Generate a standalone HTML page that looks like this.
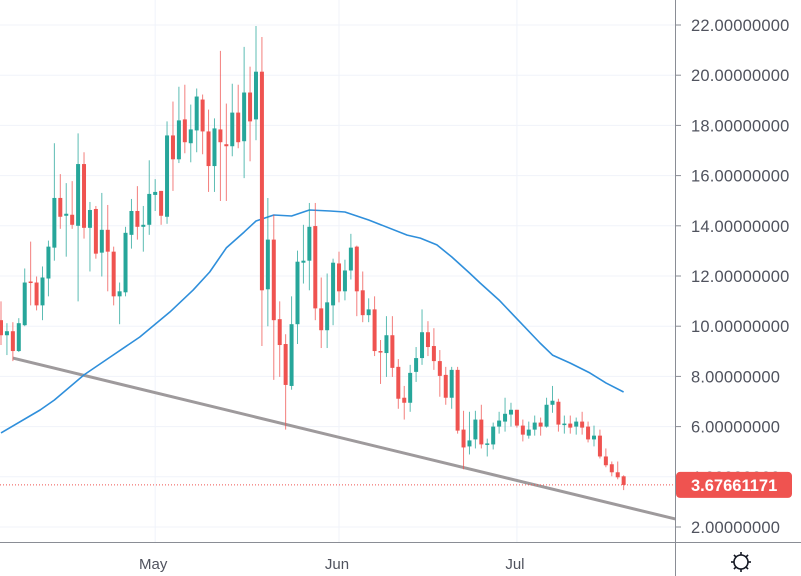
<!DOCTYPE html>
<html><head><meta charset="utf-8"><style>
html,body{margin:0;padding:0;background:#fff;}
svg{display:block;font-family:"Liberation Sans",sans-serif;}
</style></head><body>
<svg id="chart" width="801" height="576" viewBox="0 0 801 576" xmlns="http://www.w3.org/2000/svg">
<rect x="0" y="0" width="801" height="576" fill="#fff"/>
<g id="grid"></g>
<g id="plot"></g>
<g id="axes"></g>
</svg>
<script>
const opens=[10.24,9.64,9.80,9.01,10.04,11.78,11.74,10.83,11.90,13.13,15.11,14.40,14.44,14.00,16.46,13.92,14.67,12.93,13.84,12.97,11.19,11.35,13.64,14.59,13.96,14.04,15.23,15.39,14.36,17.60,16.65,18.24,17.29,17.80,19.03,17.76,16.38,17.84,17.25,17.17,18.51,17.37,19.31,18.24,20.14,11.47,13.45,10.28,9.29,7.62,10.08,12.53,12.61,13.99,10.71,9.84,10.83,12.50,11.39,12.22,13.17,11.43,10.44,10.67,9.01,8.93,9.64,8.38,7.15,6.95,8.18,8.73,9.76,9.21,8.61,8.06,7.15,8.26,5.88,5.21,5.49,6.28,5.29,5.29,6.00,6.20,6.48,6.67,6.04,5.64,5.88,6.16,6.00,6.87,6.99,6.08,6.12,6.00,6.20,6.00,5.49,5.64,4.81,4.50,4.18,4.02];
const highs=[10.99,10.12,10.16,10.32,12.30,13.37,11.98,12.38,13.41,17.29,16.06,15.70,15.78,17.68,16.93,14.95,14.79,15.31,14.83,13.17,11.74,13.96,15.07,15.58,14.79,16.61,15.86,15.39,18.16,18.95,19.54,19.62,18.83,19.47,19.23,18.63,18.28,20.97,18.87,19.66,19.62,21.13,20.34,21.96,21.52,15.11,14.44,10.99,9.68,11.19,13.01,14.04,14.91,14.91,11.94,12.10,12.69,12.97,12.65,13.68,13.21,12.18,11.11,11.19,9.45,10.40,10.40,8.69,7.62,8.46,9.17,10.67,10.20,9.92,9.05,8.38,8.38,8.38,6.63,6.59,6.63,6.87,5.52,6.16,6.59,7.15,6.95,6.67,6.28,6.20,6.44,6.36,7.15,7.62,7.11,6.44,6.44,6.36,6.59,6.20,6.04,5.88,5.13,4.61,4.61,4.06];
const lows=[9.25,8.85,8.61,8.97,10.00,10.83,10.63,10.24,11.19,12.61,13.88,12.77,13.88,10.99,13.49,12.18,12.69,11.98,11.39,10.83,10.08,11.19,13.09,13.45,12.97,13.64,14.59,14.04,14.08,15.39,16.50,16.89,16.53,16.93,16.85,15.35,15.35,14.99,14.99,16.77,17.09,15.90,16.57,17.41,9.21,10.00,7.86,7.98,5.88,7.47,9.29,11.70,11.43,10.24,9.13,9.13,10.04,10.95,11.03,11.86,10.40,10.16,10.16,8.81,7.70,7.98,7.98,6.71,6.28,6.59,7.78,8.46,8.81,8.26,7.19,6.87,6.71,5.72,4.30,4.89,5.13,5.13,4.81,5.09,5.72,5.80,6.00,5.96,5.41,5.52,5.64,5.64,5.96,6.55,5.80,5.72,5.72,5.68,5.68,5.37,5.21,4.73,4.38,4.02,3.90,3.47];
const closes=[9.64,9.80,9.01,10.12,11.74,11.74,10.83,11.94,13.17,15.11,14.36,14.48,14.04,16.46,13.92,14.63,12.89,13.84,12.97,11.19,11.39,13.72,14.59,13.96,14.04,15.27,15.35,14.40,17.60,16.65,18.20,17.33,17.84,19.15,17.76,16.38,17.88,17.33,17.17,18.51,17.33,19.31,18.16,20.14,11.43,13.45,10.24,9.25,7.66,10.08,12.57,12.61,13.96,10.71,9.84,10.95,12.53,11.39,12.22,13.13,11.39,10.44,10.67,9.01,8.97,9.64,8.34,7.11,6.95,8.14,8.73,9.76,9.17,8.61,8.02,7.15,8.26,5.84,5.17,5.45,6.28,5.29,5.33,6.00,6.24,6.51,6.67,6.04,5.68,5.88,6.16,6.00,6.87,7.03,6.08,6.12,5.96,6.20,5.96,5.49,5.64,4.81,4.46,4.18,3.98,3.67661171];
const maIdx=[0,6.6,9,14,18.4,23.4,28.5,32.4,35.2,38,41,43,46,49,52,55.5,58,62,68.5,70.7,73.5,76,79,80.8,84,87.5,90.9,93,96,99.3,102,105];
const maVal=[5.75,6.66,7.06,8.06,8.77,9.57,10.57,11.44,12.16,13.12,13.75,14.19,14.43,14.39,14.63,14.59,14.55,14.23,13.63,13.51,13.24,12.76,12.12,11.72,11.04,10.17,9.33,8.85,8.53,8.14,7.74,7.38];
const trendIdx=[2,113.7];
const trendVal=[8.73,2.32];
const yTicks=[2,4,6,8,10,12,14,16,18,20,22];
const monthIdx=[26,57,87];
const monthNames=["May","Jun","Jul"];
const lastPrice=3.67661171;

const NS="http://www.w3.org/2000/svg";
const PW=675, PH=542;
function xs(i){return 1+i*5.93;}
function ys(v){return 25+(22-v)*25.1;}
function mk(tag,attrs,parent){const e=document.createElementNS(NS,tag);for(const k in attrs)e.setAttribute(k,attrs[k]);parent.appendChild(e);return e;}
const grid=document.getElementById('grid'),plot=document.getElementById('plot'),axes=document.getElementById('axes');

yTicks.forEach(v=>{
  const l=mk('line',{x1:0,x2:PW,y1:ys(v),y2:ys(v),stroke:'#f0f3fa','stroke-width':1},grid);
  
  
});
monthIdx.forEach(i=>{
  const l=mk('line',{x1:xs(i),x2:xs(i),y1:0,y2:PH,stroke:'#f0f3fa','stroke-width':1},grid);
  
  
});

// trend line
const tl=mk('line',{x1:xs(trendIdx[0]),y1:ys(trendVal[0]),x2:xs(trendIdx[1]),y2:ys(trendVal[1]),stroke:'#9e9a9c','stroke-width':3},plot);



// moving average
let d='';maIdx.forEach((i,k)=>{d+=(k?'L':'M')+xs(i).toFixed(1)+','+ys(maVal[k]).toFixed(1);});
const ma=mk('path',{d:d,fill:'none',stroke:'#2f8fdb','stroke-width':1.6,'stroke-linejoin':'round'},plot);



// candles
opens.forEach((o,i)=>{
  const c=closes[i],up=c>=o,col=up?'#26a69a':'#ef5350',x=xs(i);
  const g=mk('g',{},plot);
  
  
  mk('line',{x1:x,x2:x,y1:ys(highs[i]),y2:ys(lows[i]),stroke:col,'stroke-width':1,'stroke-opacity':0.75},g);
  const top=ys(Math.max(o,c)),bot=ys(Math.min(o,c));
  mk('rect',{x:x-2,y:top,width:4,height:Math.max(1.5,bot-top),fill:col},g);
});

// last price dotted line
const pl=mk('line',{x1:0,x2:PW,y1:ys(lastPrice),y2:ys(lastPrice),stroke:'#ef5350','stroke-width':1,'stroke-dasharray':'1,2'},plot);



// axes lines
const ya=mk('line',{x1:PW+0.5,x2:PW+0.5,y1:0,y2:576,stroke:'#8a8d95','stroke-width':1},axes);


const xa=mk('line',{x1:0,x2:801,y1:PH+0.5,y2:PH+0.5,stroke:'#8a8d95','stroke-width':1},axes);



yTicks.forEach(v=>{
  mk('line',{x1:PW,x2:PW+6,y1:ys(v),y2:ys(v),stroke:'#8a8d95','stroke-width':1},axes);
  const t=mk('text',{x:691,y:ys(v)+6,'font-size':16.5,fill:'#50535e','letter-spacing':'0.2'},axes);
  t.textContent=v.toFixed(8);
  
  
});
monthIdx.forEach((i,k)=>{
  const t=mk('text',{x:xs(i)-2,y:569,'font-size':15,fill:'#50535e','text-anchor':'middle'},axes);
  t.textContent=monthNames[k];
  
  
});

// price label
const pg=mk('g',{},axes);


const py=ys(lastPrice);
mk('rect',{x:PW+1,y:py-13,width:116,height:26,rx:4,fill:'#ef5350'},pg);
const pt=mk('text',{x:691,y:py+6,'font-size':16.5,'font-weight':'bold',fill:'#fff'},pg);
pt.textContent=lastPrice.toFixed(8);

// gear icon
const gear=mk('g',{transform:'translate(741,562)',stroke:'#131722','stroke-width':1.6,fill:'none'},axes);


mk('circle',{cx:0,cy:0,r:7},gear);
for(let a=0;a<8;a++){const r=a*Math.PI/4;mk('line',{x1:7*Math.cos(r),y1:7*Math.sin(r),x2:10*Math.cos(r),y2:10*Math.sin(r)},gear);}
</script>
</body></html>
